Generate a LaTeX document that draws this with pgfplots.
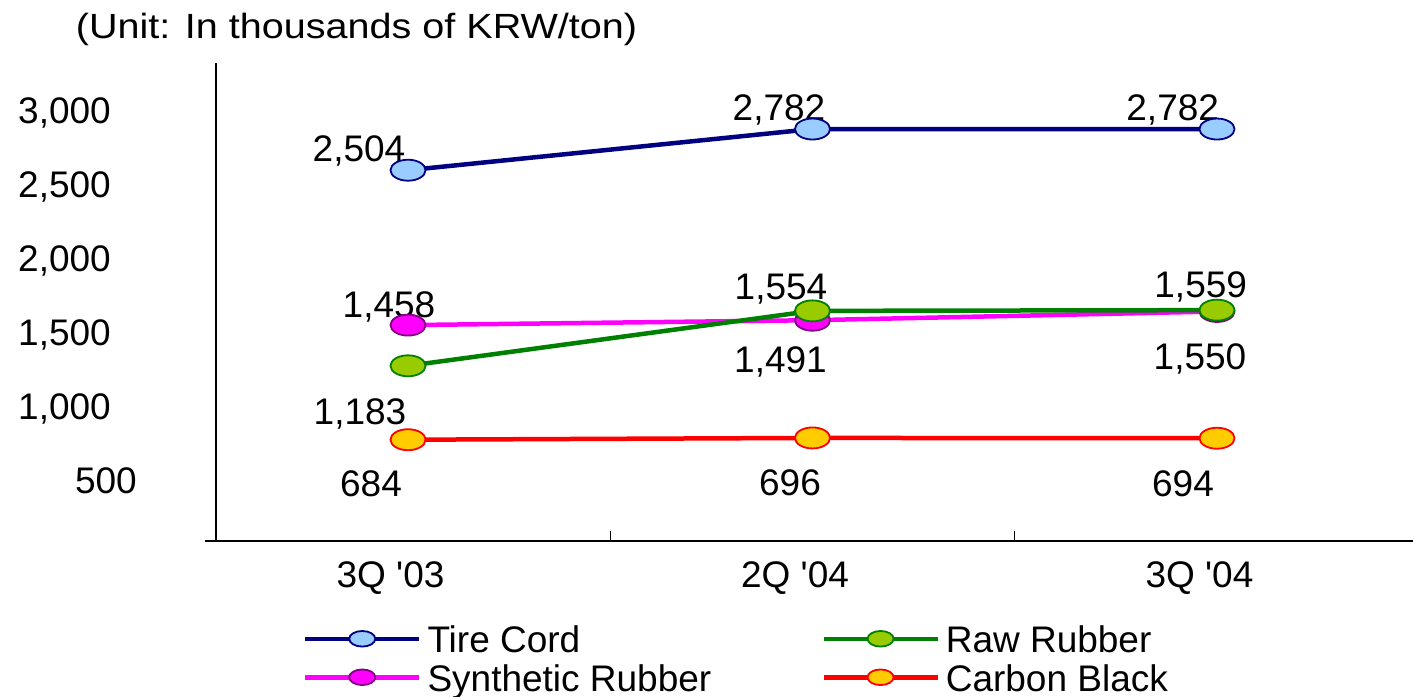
\documentclass[border=0pt]{standalone}
\usepackage{fontspec}
\setmainfont{Liberation Sans}[Ligatures=TeXOff]
\usepackage{pgfplots}
\pgfplotsset{compat=1.18}
\definecolor{navyc}{RGB}{0,0,128}
\definecolor{lblue}{RGB}{153,204,255}
\definecolor{magc}{RGB}{255,0,255}
\definecolor{purp}{RGB}{128,0,128}
\definecolor{grn}{RGB}{0,128,0}
\definecolor{ygrn}{RGB}{153,204,0}
\definecolor{redc}{RGB}{255,0,0}
\definecolor{gold}{RGB}{255,204,0}
\newcommand{\fs}{\fontsize{37bp}{44bp}\selectfont}
\begin{document}
\begin{tikzpicture}[font=\fs, lab/.style={anchor=base, inner sep=0pt, font=\fs}]
\begin{axis}[
  at={(216bp,156bp)}, anchor=south west,
  scale only axis, width=1197bp, height=478.3bp,
  xmin=-0.4747, xmax=2.4846, ymin=0, ymax=3230,
  axis x line=bottom, axis y line=left,
  axis line style={-, black, line width=1.5bp},
  xtick={0,1,2}, xticklabels={3Q '03,2Q '04,3Q '04},
  ytick={500,1000,1500,2000,2500,3000},
  yticklabels={{500\kern-26bp},{1,000},{1,500},{2,000},{2,500},{3,000}},
  major tick length=0pt,
  extra x ticks={0.5,1.5}, extra x tick labels={},
  extra x tick style={major tick length=10bp, tick align=inside, tick style={black, line width=1bp}},
  xticklabel style={font=\fs, anchor=base, inner sep=0pt, xshift=-17.5bp, yshift=-46bp},
  yticklabel style={font=\fs, anchor=base east, inner sep=0pt, xshift=-105bp, yshift=-26.3bp},
  clip=false,
  legend columns=2, transpose legend,
  legend style={at={(0.0727,-0.1731)}, anchor=north west, draw=none, fill=none,
    inner sep=0pt, outer sep=0pt, font=\fs, row sep=6bp,
    cells={anchor=base west, inner sep=0pt, text height=27bp, text depth=8bp},
    /tikz/every odd column/.append style={column sep=4bp},
    /tikz/every even column/.append style={column sep=108bp}},
  legend image code/.code={
    \draw[#1, mark=none] (0bp,14bp) -- (114bp,14bp);
    \draw[#1, mark size=7.8bp] plot coordinates {(57bp,14bp)};
  },
]
\addplot[navyc, line width=4.5bp, mark=*, mark size=10.5bp,
  mark options={xscale=1.67, fill=lblue, draw=navyc, line width=1.8bp}]
  coordinates {(0,2504) (1,2782) (2,2782)};
\addlegendentry{Tire Cord}
\addplot[magc, line width=4.5bp, mark=*, mark size=10.5bp,
  mark options={xscale=1.67, fill=magc, draw=purp, line width=1.8bp}]
  coordinates {(0,1458) (1,1491) (2,1550)};
\addlegendentry{Synthetic Rubber}
\addplot[grn, line width=4.5bp, mark=*, mark size=10.5bp,
  mark options={xscale=1.67, fill=ygrn, draw=grn, line width=1.8bp}]
  coordinates {(0,1183) (1,1554) (2,1559)};
\addlegendentry{Raw Rubber}
\addplot[redc, line width=4.5bp, mark=*, mark size=10.5bp,
  mark options={xscale=1.67, fill=gold, draw=redc, line width=1.8bp}]
  coordinates {(0,684) (1,696) (2,694)};
\addlegendentry{Carbon Black}
% data labels
\node[lab, xshift=-49bp, yshift=8.5bp] at (axis cs:0,2504) {2,504};
\node[lab, xshift=-33.5bp, yshift=8.6bp] at (axis cs:1,2782) {2,782};
\node[lab, xshift=-44.3bp, yshift=8.6bp] at (axis cs:2,2782) {2,782};
\node[lab, xshift=-19bp, yshift=7.8bp] at (axis cs:0,1458) {1,458};
\node[lab, xshift=-32bp, yshift=-52.3bp] at (axis cs:1,1491) {1,491};
\node[lab, xshift=-17bp, yshift=-58.5bp] at (axis cs:2,1550) {1,550};
\node[lab, xshift=-48bp, yshift=-58.2bp] at (axis cs:0,1183) {1,183};
\node[lab, xshift=-31.5bp, yshift=11.6bp] at (axis cs:1,1554) {1,554};
\node[lab, xshift=-16.3bp, yshift=12.8bp] at (axis cs:2,1559) {1,559};
\node[lab, xshift=-37bp, yshift=-56.3bp] at (axis cs:0,684) {684};
\node[lab, xshift=-22.5bp, yshift=-58bp] at (axis cs:1,696) {696};
\node[lab, xshift=-34bp, yshift=-57.8bp] at (axis cs:2,694) {694};
\end{axis}
\draw[black, line width=1.5bp] (205bp,156bp) -- (216.5bp,156bp);
\node[anchor=base, inner sep=0pt, font=\fontsize{35bp}{42bp}\selectfont, xscale=1.13] at (356.5bp,658bp) {(Unit: In thousands of KRW/ton)};
\pgfresetboundingbox
\useasboundingbox (0,0) rectangle (1413bp,697bp);
\end{tikzpicture}
\end{document}
